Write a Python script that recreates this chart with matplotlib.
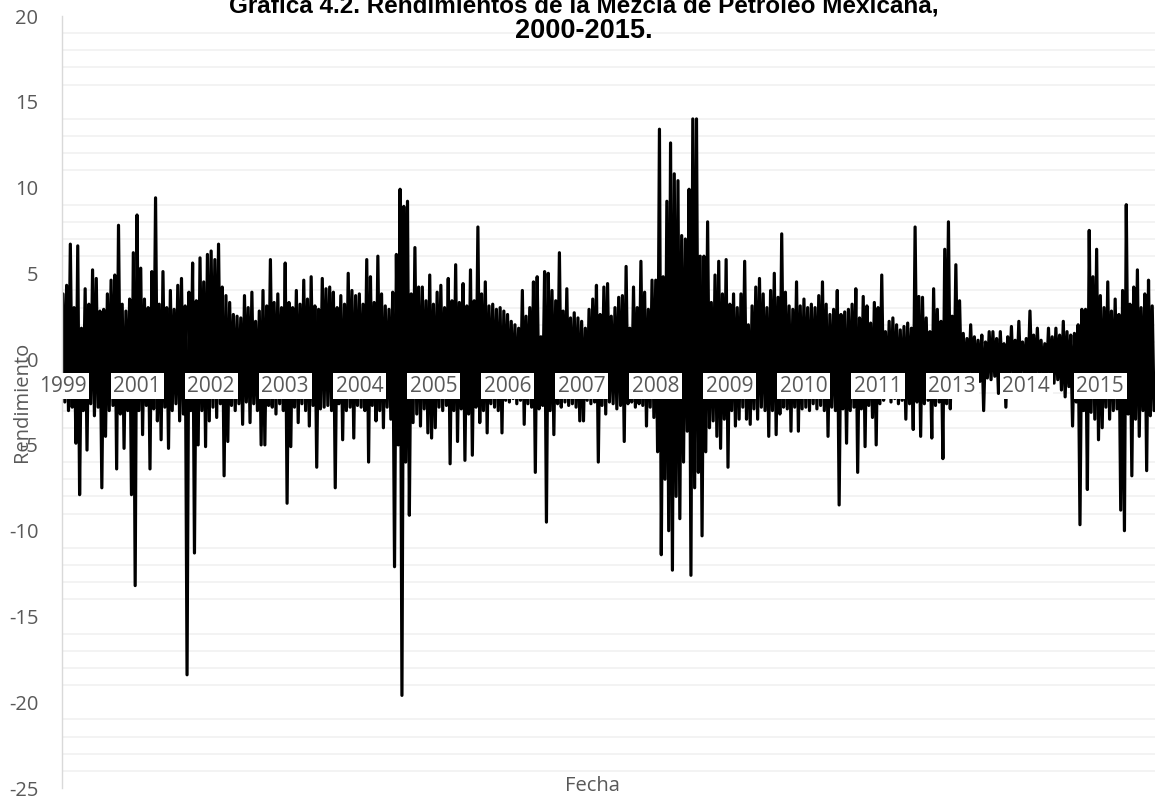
import numpy as np
import matplotlib
matplotlib.use("Agg")
import matplotlib.pyplot as plt
from matplotlib.ticker import MultipleLocator

plt.rcParams["axes.unicode_minus"] = False

# Rendimientos diarios (picos altos / bajos), por tramo
# entre etiquetas del eje de categorías
up_1999 = [3.8, 4.3, 6.7, 3.0, 6.6, 1.8, 4.1, 3.2, 5.2, 4.7, 2.8, 2.9, 3.8, 4.6, 4.9, 7.8, 3.2, 2.8, 3.5, 6.2]
down_1999 = [-2.5, -3.0, -2.8, -4.9, -7.9, -3.0, -5.3, -2.6, -3.3, -2.8, -7.5, -4.5, -3.0, -2.7, -6.4, -3.2, -5.2, -3.0, -7.9, -13.2]
up_2001 = [8.4, 5.3, 3.5, 3.0, 5.1, 9.4, 3.2, 5.1, 3.0, 4.0, 2.9, 4.3, 4.7, 3.1, 3.9, 5.6, 3.4, 5.9, 4.5, 6.1]
down_2001 = [-3.0, -4.4, -2.7, -6.4, -2.9, -3.6, -4.7, -2.8, -5.2, -3.0, -2.6, -3.6, -3.2, -18.4, -3.0, -11.3, -5.0, -3.0, -5.1, -3.6]
up_2002 = [6.3, 5.8, 6.7, 4.2, 3.7, 3.3, 2.6, 2.5, 2.4, 3.7, 3.0, 3.9, 2.2, 2.8, 4.0, 3.1, 5.8, 3.3, 3.8, 3.0]
down_2002 = [-2.8, -3.4, -2.6, -6.8, -4.8, -2.7, -3.0, -2.6, -3.8, -2.5, -3.7, -2.6, -3.0, -5.0, -5.0, -2.7, -2.8, -3.2, -2.6, -3.0]
up_2003 = [5.6, 3.3, 3.0, 4.0, 3.2, 4.6, 3.5, 4.8, 3.1, 2.9, 4.7, 4.1, 4.2, 3.9, 3.0, 3.7, 3.2, 5.0, 4.0, 3.7]
down_2003 = [-8.4, -5.1, -2.8, -3.7, -2.6, -3.0, -3.9, -2.7, -6.3, -2.9, -2.8, -2.7, -3.0, -7.5, -2.6, -4.7, -3.0, -2.8, -4.6, -2.7]
up_2004 = [3.8, 3.2, 5.8, 4.8, 3.3, 6.0, 3.8, 3.1, 2.9, 3.9, 6.1, 9.9, 8.9, 9.2, 3.8, 6.5, 4.2, 4.2, 3.4, 4.9]
down_2004 = [-2.8, -3.0, -6.0, -2.7, -3.6, -3.0, -4.0, -2.8, -3.5, -12.1, -5.0, -19.6, -6.0, -9.1, -3.7, -3.2, -3.9, -2.9, -4.3, -4.6]
up_2005 = [3.2, 3.9, 4.3, 3.0, 4.7, 3.4, 5.5, 3.3, 4.4, 3.1, 5.2, 3.4, 7.7, 3.8, 4.5, 3.1, 3.2, 2.9, 3.0, 2.8]
down_2005 = [-4.0, -2.8, -3.0, -2.7, -6.1, -3.0, -4.8, -2.9, -5.9, -3.2, -5.6, -2.8, -3.7, -3.0, -4.3, -2.6, -2.8, -3.0, -4.3, -2.4]
up_2006 = [2.6, 2.2, 2.0, 1.8, 4.0, 2.5, 3.0, 4.5, 4.8, 1.3, 5.1, 5.0, 4.0, 3.4, 6.2, 2.8, 4.1, 2.4, 2.7, 2.4]
down_2006 = [-2.5, -2.3, -2.6, -2.4, -3.8, -2.6, -2.8, -6.6, -2.9, -2.7, -9.5, -3.0, -4.4, -2.6, -2.8, -2.5, -2.7, -2.6, -2.8, -3.6]
up_2007 = [2.2, 1.8, 2.9, 3.5, 4.3, 2.6, 4.2, 4.4, 2.5, 3.0, 3.6, 3.7, 5.4, 1.8, 4.2, 3.0, 5.7, 3.9, 2.9, 4.6]
down_2007 = [-3.6, -2.4, -2.6, -2.5, -6.0, -2.7, -3.2, -2.5, -2.6, -2.9, -2.7, -4.8, -2.6, -2.5, -2.8, -2.6, -2.7, -3.9, -2.8, -3.4]
up_2008 = [4.6, 13.4, 4.8, 9.2, 12.6, 10.8, 10.4, 7.2, 7.0, 9.9, 14.0, 14.0, 6.0, 6.0, 8.0, 3.3, 4.9, 5.7, 3.8, 5.8]
down_2008 = [-5.4, -11.4, -7.0, -10.0, -12.3, -8.0, -9.3, -6.0, -4.2, -12.6, -7.5, -6.6, -10.3, -5.4, -4.0, -3.6, -4.5, -5.2, -3.5, -6.3]
up_2009 = [3.2, 3.8, 3.0, 3.8, 5.7, 2.0, 3.1, 4.2, 4.7, 3.8, 3.0, 4.0, 5.0, 3.6, 7.3, 3.9, 3.1, 2.9, 4.5, 3.1]
down_2009 = [-3.0, -3.9, -3.5, -2.8, -3.5, -3.8, -2.9, -3.5, -2.8, -3.0, -4.5, -3.0, -4.4, -3.2, -2.8, -2.9, -4.2, -2.8, -4.2, -2.9]
up_2010 = [3.5, 3.0, 3.2, 3.0, 3.7, 4.5, 3.2, 2.6, 2.9, 4.0, 2.6, 2.75, 2.9, 3.2, 4.1, 2.4, 3.65, 3.1, 2.1, 3.3]
down_2010 = [-2.8, -3.0, -2.6, -2.9, -2.7, -3.0, -4.5, -2.8, -3.0, -8.5, -2.9, -4.9, -3.0, -2.8, -6.6, -2.9, -5.1, -2.7, -3.4, -5.0]
up_2011 = [3.0, 4.9, 1.6, 2.2, 2.4, 2.0, 1.7, 1.9, 2.1, 1.8, 7.7, 3.65, 3.6, 2.4, 1.6, 4.1, 2.9, 2.2, 6.4, 8.0]
down_2011 = [-2.6, -2.4, -2.2, -2.5, -2.3, -2.6, -2.4, -3.5, -2.6, -4.1, -2.5, -4.5, -2.6, -2.4, -4.6, -2.7, -2.5, -5.8, -2.6, -2.9]
up_2013 = [2.5, 5.5, 3.4, 1.5, 1.2, 2.0, 1.3, 1.1, 1.4, 1.0, 1.6, 1.6, 1.2, 1.6, 0.9, 1.3, 1.9, 1.1, 2.2, 1.0]
down_2013 = [-2.0, -1.6, -1.4, -1.3, -1.1, -1.2, -1.0, -1.3, -3.0, -1.1, -1.2, -1.0, -2.0, -1.1, -2.8, -1.0, -1.2, -1.0, -0.9, -0.8]
up_2014 = [1.2, 2.8, 1.4, 1.8, 1.1, 0.9, 1.8, 1.3, 1.8, 1.4, 2.2, 1.6, 1.4, 1.5, 2.0, 2.9, 2.9, 7.5, 4.8, 6.4]
down_2014 = [-1.0, -0.9, -1.2, -1.0, -1.1, -1.0, -1.3, -1.4, -1.2, -1.8, -2.2, -1.6, -3.9, -2.5, -9.65, -3.0, -7.6, -3.1, -3.5, -4.7]
up_2015 = [3.7, 3.0, 4.5, 2.8, 3.5, 2.6, 4.0, 9.0, 3.2, 4.2, 5.2, 3.0, 3.8, 4.6, 3.1]
down_2015 = [-4.0, -2.8, -3.5, -3.0, -2.9, -8.8, -10.0, -3.2, -6.8, -3.5, -4.5, -3.0, -6.5, -3.3, -3.0]

year_labels = ["1999", "2001", "2002", "2003", "2004", "2005", "2006", "2007",
               "2008", "2009", "2010", "2011", "2013", "2014", "2015"]

segments = [
    (up_1999, down_1999), (up_2001, down_2001), (up_2002, down_2002),
    (up_2003, down_2003), (up_2004, down_2004), (up_2005, down_2005),
    (up_2006, down_2006), (up_2007, down_2007), (up_2008, down_2008),
    (up_2009, down_2009), (up_2010, down_2010), (up_2011, down_2011),
    (up_2013, down_2013), (up_2014, down_2014), (up_2015, down_2015),
]

rend = []
tick_pos = []
for up, down in segments:
    tick_pos.append(len(rend))
    for u, d in zip(up, down):
        rend.extend([u, d])
rend = np.array(rend)
x = np.arange(len(rend))

GRAY = "#595959"
TICK_FONT = "Open Sans"

fig = plt.figure(figsize=(11.67, 7.99), dpi=100)
ax = fig.add_axes([62 / 1167, 11 / 799, 1093 / 1167, 772 / 799])

ax.plot(x, rend, color="black", linewidth=2.3,
        solid_joinstyle="round", solid_capstyle="round", zorder=2)

ax.set_xlim(-0.5, len(rend) - 0.5)
ax.set_ylim(-25, 20)

# the category axis crosses at 0; set_position resets ticks, so do it first
ax.spines["bottom"].set_position(("data", 0))
ax.spines["bottom"].set_visible(False)
ax.spines["top"].set_visible(False)
ax.spines["right"].set_visible(False)
ax.spines["left"].set_color("#d9d9d9")
ax.spines["left"].set_linewidth(1.0)

ax.yaxis.set_major_locator(MultipleLocator(5))
ax.yaxis.set_minor_locator(MultipleLocator(1))
ax.grid(which="minor", axis="y", color="#f0f0f0", linewidth=1.1)
ax.grid(which="major", visible=False)
ax.tick_params(axis="y", which="both", length=0, pad=17, labelsize=14.5, labelcolor=GRAY)
for lab in ax.get_yticklabels():
    lab.set_family(TICK_FONT)

ax.set_xticks(tick_pos)
ax.set_xticklabels(year_labels)
ax.tick_params(axis="x", length=0, pad=12, labelsize=15, labelcolor=GRAY)
for lab in ax.get_xticklabels():
    lab.set_family(TICK_FONT)
    lab.set_bbox(dict(facecolor="white", edgecolor="none", pad=2))

ax.yaxis.set_zorder(0.5)
ax.xaxis.set_zorder(3)

fig.text(22 / 1167, 1 - 402 / 799, "Rendimiento", rotation=90, ha="center", va="center",
         family=TICK_FONT, fontsize=14.5, color=GRAY)
fig.text(592 / 1167, 1 - 786 / 799, "Fecha", ha="center", va="center",
         family=TICK_FONT, fontsize=14.5, color=GRAY)

fig.text(0.5, 1 - 12 / 799, "Gráfica 4.2. Rendimientos de la Mezcla de Petróleo Mexicana,",
         ha="center", va="baseline", family="Liberation Sans", fontweight="bold",
         fontsize=17.5, color="black")
fig.text(0.5, 1 - 38 / 799, "2000-2015.", ha="center", va="baseline",
         family="Liberation Sans", fontweight="bold", fontsize=19.5, color="black")

fig.savefig("out.png", dpi=100)
